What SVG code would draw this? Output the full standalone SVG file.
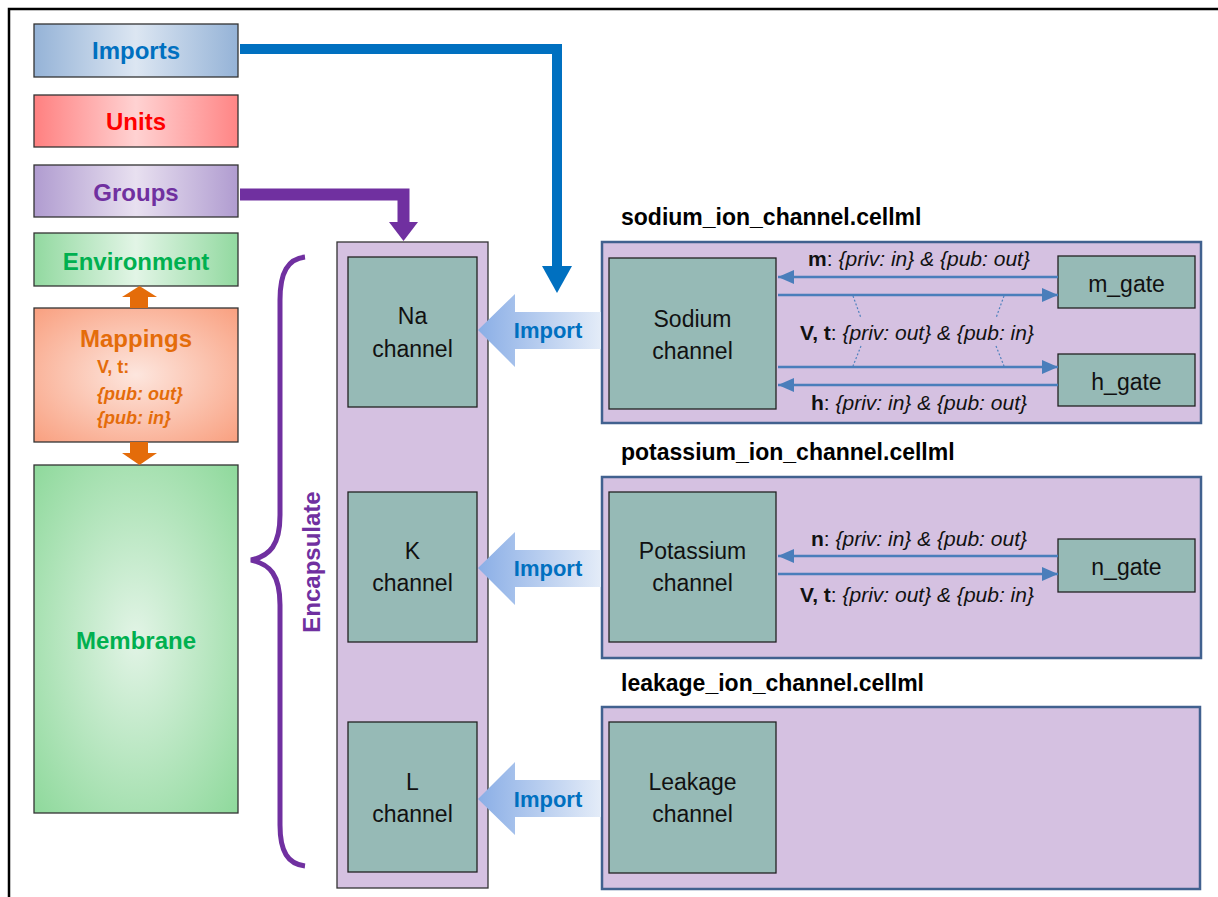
<svg xmlns="http://www.w3.org/2000/svg" width="1218" height="897" viewBox="0 0 1218 897">
<defs>
<linearGradient id="gImp" x1="0" x2="1" y1="0" y2="0"><stop offset="0" stop-color="#95B3D7"/><stop offset="0.5" stop-color="#DCE6F2"/><stop offset="1" stop-color="#95B3D7"/></linearGradient>
<linearGradient id="gUnits" x1="0" x2="1" y1="0" y2="0"><stop offset="0" stop-color="#FF8080"/><stop offset="0.5" stop-color="#FFD2D2"/><stop offset="1" stop-color="#FF8585"/></linearGradient>
<linearGradient id="gGroups" x1="0" x2="1" y1="0" y2="0"><stop offset="0" stop-color="#B09CD0"/><stop offset="0.5" stop-color="#E8E0F0"/><stop offset="1" stop-color="#B09CD0"/></linearGradient>
<linearGradient id="gEnv" x1="0" x2="1" y1="0" y2="0"><stop offset="0" stop-color="#92D9A0"/><stop offset="0.5" stop-color="#E2F5E6"/><stop offset="1" stop-color="#92D9A0"/></linearGradient>
<radialGradient id="gMap" cx="0.5" cy="0.5" r="0.7"><stop offset="0" stop-color="#FDE6DE"/><stop offset="1" stop-color="#F9A080"/></radialGradient>
<radialGradient id="gMem" cx="0.5" cy="0.5" r="0.7"><stop offset="0" stop-color="#E2F4E6"/><stop offset="1" stop-color="#8FD99C"/></radialGradient>
<linearGradient id="gArrow" x1="0" x2="1" y1="0" y2="0"><stop offset="0" stop-color="#8AAEE6"/><stop offset="1" stop-color="#E4ECF8"/></linearGradient>
<marker id="ah" viewBox="0 0 16 14" refX="16" refY="7" markerWidth="16" markerHeight="14" markerUnits="userSpaceOnUse" orient="auto"><path d="M0,0 L16,7 L0,14 z" fill="#4A7EBB"/></marker>
</defs>
<style>
.hdr{stroke:#333;stroke-width:1.3}
.ht{font-family:"Liberation Sans",Arial,sans-serif;font-weight:bold;font-size:24px;text-anchor:middle}
.col{fill:#D5C1E1;stroke:#333;stroke-width:1.3}
.cell{fill:#D5C1E1;stroke:#41618F;stroke-width:2.5}
.teal{fill:#96BAB6;stroke:#222;stroke-width:1.3}
.tt{font-family:"Liberation Sans",Arial,sans-serif;font-size:23px;text-anchor:middle;fill:#111}
.title{font-family:"Liberation Sans",Arial,sans-serif;font-size:23px;font-weight:bold;fill:#000}
.lbl{font-family:"Liberation Sans",Arial,sans-serif;font-size:21px;text-anchor:middle;fill:#111}
.imp{fill:url(#gArrow)}
.impt{font-family:"Liberation Sans",Arial,sans-serif;font-weight:bold;font-size:22px;fill:#0070C0;text-anchor:middle}
.conn{stroke:#4A7EBB;stroke-width:2.5;fill:none;marker-end:url(#ah)}
.dot{stroke:#4F81BD;stroke-width:1.2;stroke-dasharray:2,2;fill:none}
.mt{font-family:"Liberation Sans",Arial,sans-serif;font-weight:bold;font-size:18px;fill:#E46C0A}
</style>
<rect width="1218" height="897" fill="#fff"/>
<path d="M9,897 V9 H1218" fill="none" stroke="#000" stroke-width="2.5"/>

<g id="imports"><rect class="hdr" x="34" y="24" width="204" height="53" fill="url(#gImp)"/><text class="ht" x="136" y="59" fill="#0070C0">Imports</text></g>
<g id="units"><rect class="hdr" x="34" y="95" width="204" height="52" fill="url(#gUnits)"/><text class="ht" x="136" y="130" fill="#FF0000">Units</text></g>
<g id="groups"><rect class="hdr" x="34" y="165" width="204" height="52" fill="url(#gGroups)"/><text class="ht" x="136" y="201" fill="#7030A0">Groups</text></g>
<g id="environment"><rect class="hdr" x="34" y="233" width="204" height="53" fill="url(#gEnv)"/><text class="ht" x="136" y="270" fill="#00B050">Environment</text></g>
<g id="mappings"><rect class="hdr" x="34" y="308" width="204" height="134" fill="url(#gMap)"/>
<text class="ht" x="136" y="347" fill="#E46C0A" font-size="26">Mappings</text>
<text class="mt" x="97" y="373">V, t:</text>
<text class="mt" x="97" y="400" font-style="italic">{pub: out}</text>
<text class="mt" x="97" y="424" font-style="italic">{pub: in}</text></g>
<g id="membrane"><rect class="hdr" x="34" y="465" width="204" height="348" fill="url(#gMem)"/><text class="ht" x="136" y="649" fill="#00B050" font-size="25">Membrane</text></g>

<g id="encapsulate">
<path d="M305,257 C288,259 280,272 280,300 L280,515 C280,545 270,556 251,560 C270,564 280,575 280,605 L280,825 C280,852 288,864 305,866" fill="none" stroke="#7030A0" stroke-width="5"/>
<text class="ht" x="0" y="0" fill="#7030A0" transform="translate(320,562) rotate(-90)">Encapsulate</text>
</g>

<g id="channels-column">
<rect class="col" x="337" y="242" width="151" height="646"/>
<g id="na-channel"><rect class="teal" x="348" y="257" width="129" height="150"/><text class="tt" x="412.5" y="324">Na</text><text class="tt" x="412.5" y="357">channel</text></g>
<g id="k-channel"><rect class="teal" x="348" y="492" width="129" height="150"/><text class="tt" x="412.5" y="559">K</text><text class="tt" x="412.5" y="591">channel</text></g>
<g id="l-channel"><rect class="teal" x="348" y="722" width="129" height="150"/><text class="tt" x="412.5" y="790">L</text><text class="tt" x="412.5" y="822">channel</text></g>
</g>

<g id="sodium">
<text class="title" x="621" y="225">sodium_ion_channel.cellml</text>
<rect class="cell" x="602" y="242" width="599" height="181"/>
<g id="sodium-channel"><rect class="teal" x="609" y="258" width="167" height="151"/><text class="tt" x="692.5" y="327">Sodium</text><text class="tt" x="692.5" y="359">channel</text></g>
<g id="m-gate"><rect class="teal" x="1058" y="256" width="137" height="52"/><text class="tt" x="1126.5" y="292">m_gate</text></g>
<g id="h-gate"><rect class="teal" x="1058" y="354" width="137" height="52"/><text class="tt" x="1126.5" y="390">h_gate</text></g>
</g>

<g id="potassium">
<text class="title" x="621" y="460">potassium_ion_channel.cellml</text>
<rect class="cell" x="602" y="477" width="599" height="181"/>
<g id="potassium-channel"><rect class="teal" x="609" y="492" width="167" height="150"/><text class="tt" x="692.5" y="559">Potassium</text><text class="tt" x="692.5" y="591">channel</text></g>
<g id="n-gate"><rect class="teal" x="1058" y="539" width="137" height="53"/><text class="tt" x="1126.5" y="575">n_gate</text></g>
</g>

<g id="leakage">
<text class="title" x="621" y="691">leakage_ion_channel.cellml</text>
<rect class="cell" x="602" y="707" width="598" height="182"/>
<g id="leakage-channel"><rect class="teal" x="609" y="722" width="167" height="151"/><text class="tt" x="692.5" y="790">Leakage</text><text class="tt" x="692.5" y="822">channel</text></g>
</g>

<g id="connectors">
<polyline points="240,49 557,49 557,267" fill="none" stroke="#0070C0" stroke-width="10"/>
<polygon points="542,266 572,266 557,293" fill="#0070C0"/>
<polyline points="240,194.5 403.5,194.5 403.5,223" fill="none" stroke="#7030A0" stroke-width="12"/>
<polygon points="389,222 418,222 403.5,241" fill="#7030A0"/>
<rect x="130" y="296" width="18" height="12" fill="#E46C0A"/>
<polygon points="122,297 157,297 139.5,286" fill="#E46C0A"/>
<rect x="130" y="442" width="18" height="12" fill="#E46C0A"/>
<polygon points="122,453 157,453 139.5,465" fill="#E46C0A"/>

<polygon class="imp" points="478,330 515,294 515,312 601,312 601,349 515,349 515,367"/>
<text class="impt" x="548" y="338">Import</text>
<polygon class="imp" points="478,568 515,532 515,550 601,550 601,587 515,587 515,605"/>
<text class="impt" x="548" y="576">Import</text>
<polygon class="imp" points="478,799 515,762 515,780 601,780 601,817 515,817 515,835"/>
<text class="impt" x="548" y="807">Import</text>

<line class="conn" x1="1058" y1="277" x2="778" y2="277"/>
<line class="conn" x1="778" y1="295" x2="1058" y2="295"/>
<line class="conn" x1="778" y1="367" x2="1058" y2="367"/>
<line class="conn" x1="1058" y1="385" x2="778" y2="385"/>
<line class="dot" x1="853" y1="296" x2="861" y2="318"/>
<line class="dot" x1="1004" y1="296" x2="996" y2="318"/>
<line class="dot" x1="861" y1="346" x2="853" y2="366"/>
<line class="dot" x1="996" y1="346" x2="1004" y2="366"/>
<text class="lbl" x="919" y="266"><tspan font-weight="bold">m</tspan>: <tspan font-style="italic">{priv: in} &amp; {pub: out}</tspan></text>
<text class="lbl" x="917" y="340"><tspan font-weight="bold">V, t</tspan>: <tspan font-style="italic">{priv: out} &amp; {pub: in}</tspan></text>
<text class="lbl" x="919" y="410"><tspan font-weight="bold">h</tspan>: <tspan font-style="italic">{priv: in} &amp; {pub: out}</tspan></text>

<line class="conn" x1="1058" y1="556" x2="778" y2="556"/>
<line class="conn" x1="778" y1="574" x2="1058" y2="574"/>
<text class="lbl" x="919" y="546"><tspan font-weight="bold">n</tspan>: <tspan font-style="italic">{priv: in} &amp; {pub: out}</tspan></text>
<text class="lbl" x="917" y="602"><tspan font-weight="bold">V, t</tspan>: <tspan font-style="italic">{priv: out} &amp; {pub: in}</tspan></text>
</g>
</svg>
